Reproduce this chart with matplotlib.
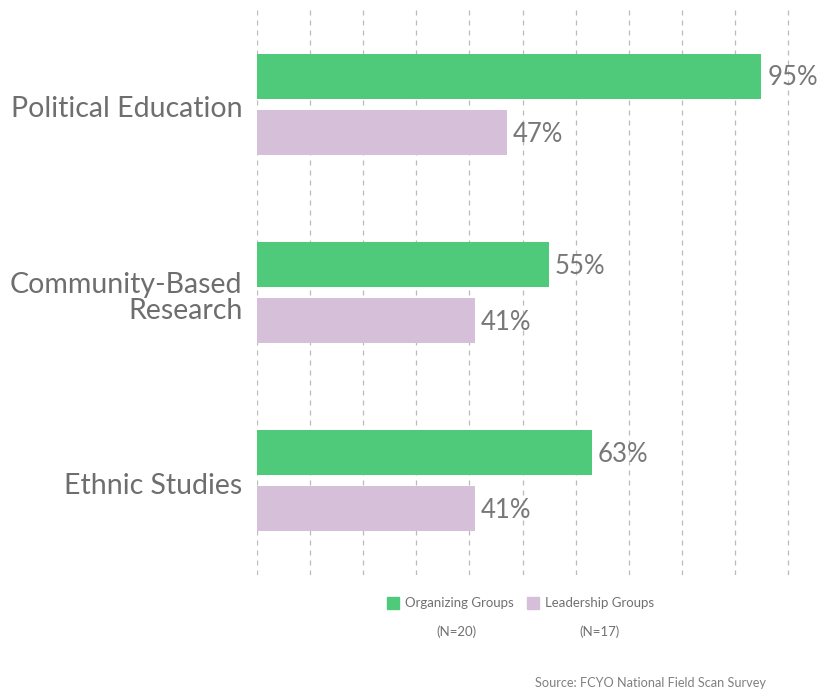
import matplotlib
matplotlib.use("Agg")
import matplotlib.pyplot as plt
from matplotlib.patches import Rectangle

plt.rcParams['font.family'] = ['Lato', 'DejaVu Sans']

categories = ["Political Education", "Community-Based\nResearch", "Ethnic Studies"]
organizing = [95, 55, 63]
leadership = [47, 41, 41]
series_names = ["Organizing Groups", "Leadership Groups"]
series_n = ["(N=20)", "(N=17)"]
source = "Source: FCYO National Field Scan Survey"

green = "#4FC97A"
pink = "#D6BFD8"
label_color = "#6E6E6E"

W, H = 820, 692
xmax = 100.6
ax_w = (788 - 257) * xmax / 100
fig = plt.figure(figsize=(W / 100, H / 100), dpi=100)
ax = fig.add_axes([257 / W, 1 - 575 / H, ax_w / W, (575 - 10) / H])

y = list(range(len(categories)))
off = 0.149
bh = 0.24
ax.barh([v - off for v in y], organizing, height=bh, color=green, zorder=3)
ax.barh([v + off for v in y], leadership, height=bh, color=pink, zorder=3)

for i in y:
    ax.text(organizing[i] + 1.1, i - off + 0.01, f"{organizing[i]}%", va="center", ha="left",
            fontsize=18.5, color="#787878", zorder=4)
    ax.text(leadership[i] + 1.1, i + off + 0.01, f"{leadership[i]}%", va="center", ha="left",
            fontsize=18.5, color="#787878", zorder=4)

ax.set_xlim(0, xmax)
ax.set_ylim(2.5, -0.5)
ax.set_xticks(range(0, 101, 10))
ax.set_yticks([v + 0.015 for v in y])
ax.set_yticklabels(categories, fontsize=20.5, color=label_color, linespacing=1.0)
ax.tick_params(axis="both", length=0)
ax.tick_params(axis="y", pad=10.5)
ax.set_xticklabels([])
ax.grid(axis="x", color="#BBBBBB", linestyle=(0, (4, 4)), linewidth=0.9, zorder=0)
for s in ax.spines.values():
    s.set_visible(False)

# legend
def fx(px):
    return px / W

def fy(py):
    return 1 - py / H

for (x0, col, name, n, ncx) in [(387, green, series_names[0], series_n[0], 456),
                                (527, pink, series_names[1], series_n[1], 600)]:
    fig.patches.append(Rectangle((fx(x0), fy(609)), 12 / W, 12 / H, transform=fig.transFigure,
                                 color=col, figure=fig))
    fig.text(fx(x0 + 18), fy(603), name, fontsize=9.5, color="#707070", va="center", ha="left")
    fig.text(fx(ncx), fy(632), n, fontsize=9.5, color="#707070", va="center", ha="center")

fig.text(fx(766), fy(683), source, fontsize=9.2, color="#808080", va="center", ha="right")

fig.savefig("out.png", dpi=100, facecolor="white")
